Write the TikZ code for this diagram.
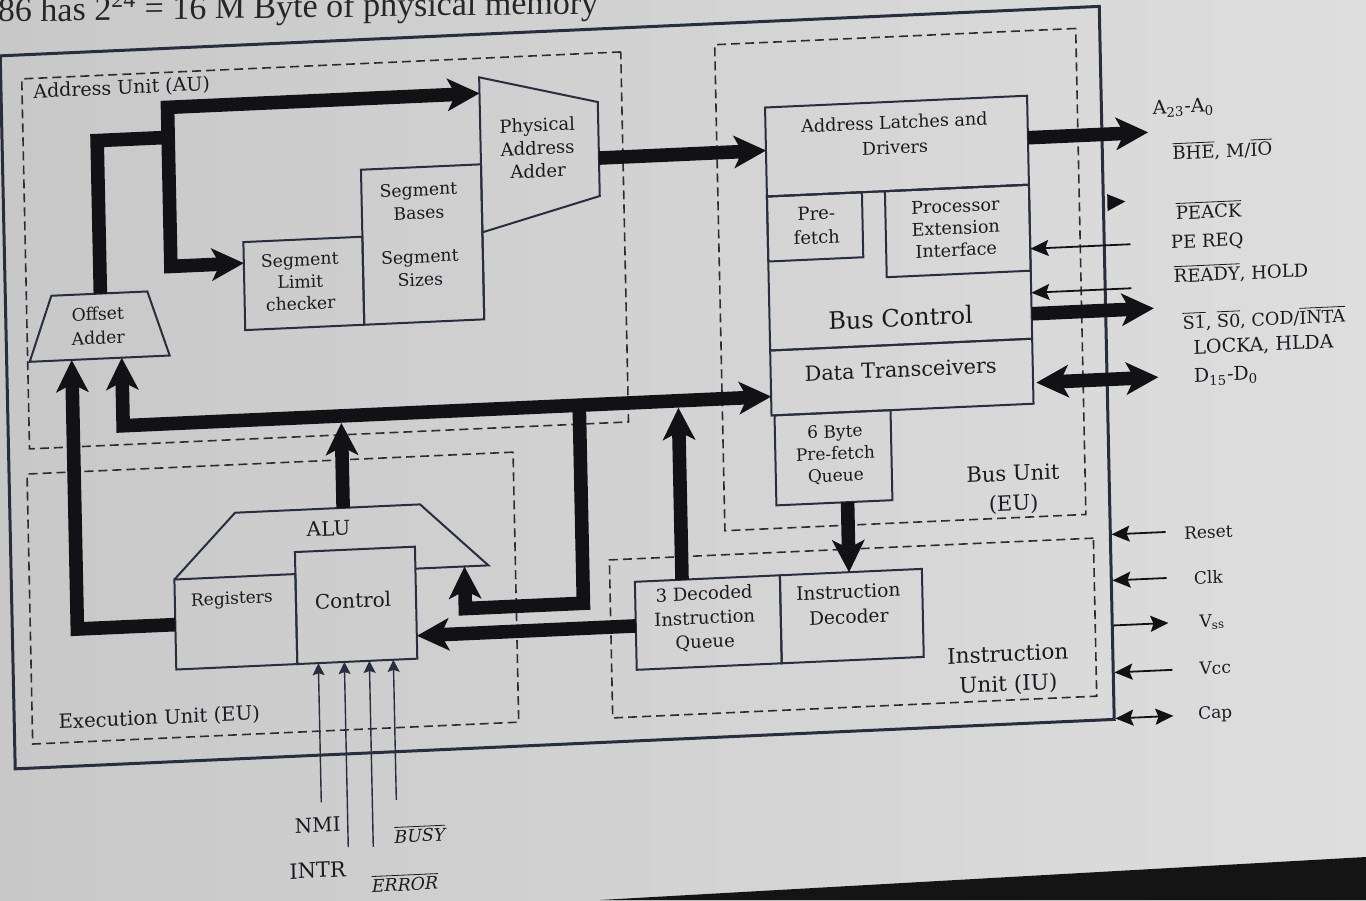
\documentclass[tikz,border=0pt]{standalone}
\usepackage{fontspec}
\setmainfont{DejaVu Serif}
\newfontfamily\topfont{Liberation Serif}
\usetikzlibrary{arrows.meta}
\newcommand\myfs[2]{\fontsize{#1}{#2}\selectfont}
\definecolor{bgl}{RGB}{200,200,200}
\definecolor{bgr}{RGB}{222,222,222}
\definecolor{linec}{RGB}{38,46,64}
\definecolor{busc}{RGB}{18,18,22}
\definecolor{txtc}{RGB}{26,26,32}
\definecolor{dashc}{RGB}{44,44,54}
\tikzset{
  BusTip/.tip={Stealth[length=16pt,width=16pt,inset=4pt]},
  ThinTip/.tip={Stealth[length=9pt,width=8pt,inset=1.5pt]},
  PinTip/.tip={Stealth[length=6pt,width=6pt,inset=1pt]},
  box/.style={draw=linec, line width=1pt, inner sep=0pt, outer sep=0pt},
  grp/.style={draw=dashc, line width=0.8pt, dash pattern=on 4.5pt off 2.5pt, inner sep=0pt, outer sep=0pt},
  lbl/.style={inner sep=0pt, align=center, text=txtc},
  bus/.style={draw=busc, line width=6.8pt, line join=miter},
  busarr/.style={bus, -BusTip},
  busdbl/.style={bus, BusTip-BusTip},
  thin/.style={draw=busc, line width=0.9pt},
  thinarr/.style={thin, -ThinTip},
  thindbl/.style={thin, ThinTip-ThinTip},
  pinarr/.style={draw=linec, line width=0.7pt, -PinTip},
}
\begin{document}
\begin{tikzpicture}[x=0.5pt,y=-0.5pt]
\useasboundingbox (0,0) rectangle (1366,900);
\shade[left color=bgl, right color=bgr] (0,0) rectangle (1366,900);
\fill[black!92] (600,900) -- (1366,857) -- (1366,900) -- cycle;

\begin{scope}[cm={1,0.045,-0.021,1,(-4.2pt,-12.6pt)}, transform shape]
% top text (cut off by the page edge, as in the photo)
\node[anchor=base west, inner sep=0pt, rotate=-1.8, font=\topfont\myfs{17}{20}, text=black!85] (ttop) at (6,-3) {86 has 2\textsuperscript{24} = 16 M Byte of physical memory};

% outer box and unit frames
\node[draw=linec, line width=1.5pt, inner sep=0pt, minimum width=549.5pt, minimum height=356.5pt] (outer) at (557.5,387.5) {};
\node[grp, minimum width=299.5pt, minimum height=185pt] (au) at (328.5,240) {};
\node[grp, minimum width=180.5pt, minimum height=243pt] (bu) at (902.5,295) {};
\node[grp, minimum width=243pt, minimum height=135pt] (eu) at (269,585) {};
\node[grp, minimum width=242pt, minimum height=79pt] (iu) at (848,641) {};

% bus unit boxes
\node[box, minimum width=131pt, minimum height=44.5pt] (ald) at (902,161.5) {};
\node[box, minimum width=131pt, minimum height=77pt] (bc) at (902,283) {};
\node[box, minimum width=131pt, minimum height=32.5pt] (dt) at (902,392.5) {};
\node[box, minimum width=47.5pt, minimum height=32.5pt] (pf) at (818.5,238.5) {};
\node[box, minimum width=72pt, minimum height=43pt] (pei) at (961,249) {};
\node[box, minimum width=58pt, minimum height=45pt] (q6) at (832,470) {};
% instruction unit boxes
\node[box, minimum width=72.5pt, minimum height=44pt] (dq) at (703.5,629) {};
\node[box, minimum width=71pt, minimum height=44pt] (idec) at (847,629) {};
% execution unit
\draw[box] (171,562) -- (233,498) -- (418,498) -- (485,562) -- (412,562);
\node[box, minimum width=60.5pt, minimum height=45pt] (reg) at (231.5,607) {};
\node[box, minimum width=60pt, minimum height=56pt] (ctl) at (352,596) {};
% address unit
\node[box, minimum width=59.5pt, minimum height=44pt] (slc) at (306.5,272) {};
\node[box, minimum width=60pt, minimum height=77.5pt] (sbs) at (426,238.5) {};
\draw[box] (486,316) -- (486,74) -- (604,104) -- (604,198) -- (486,229);
\draw[box] (54,273) -- (150,273) -- (171,338) -- (31,338) -- cycle;

% texts
\node[lbl, font=\myfs{9.5}{12}, anchor=west] (tau) at (40,69) {Address Unit (AU)};
\node[lbl, font=\myfs{9}{11.5}] (pa) at (543,147) {Physical\\Address\\Adder};
\node[lbl, font=\myfs{8.6}{11.5}] (tsb) at (423,195) {Segment\\Bases};
\node[lbl, font=\myfs{8.6}{11.5}] (tss) at (423,262) {Segment\\Sizes};
\node[lbl, font=\myfs{8.6}{11}] (tslc) at (303,270) {Segment\\Limit\\checker};
\node[lbl, font=\myfs{8.6}{12}] (oa) at (100,305) {Offset\\Adder};
\node[lbl, font=\myfs{8.8}{12.5}] (tald) at (900,150) {Address Latches and\\Drivers};
\node[lbl, font=\myfs{9}{12}] (tpf) at (820,237) {Pre-\\fetch};
\node[lbl, font=\myfs{8.8}{11}] (tpei) at (959,246) {Processor\\Extension\\Interface};
\node[lbl, font=\myfs{12}{14}] (tbc) at (902,333) {Bus Control};
\node[lbl, font=\myfs{10.4}{12}] (tdt) at (901,385) {Data Transceivers};
\node[lbl, font=\myfs{8.5}{11}] (tq6) at (834,467) {6 Byte\\Pre-fetch\\Queue};
\node[lbl, font=\myfs{10.5}{15}] (tbu) at (1011,510) {Bus Unit\\(EU)};
\node[lbl, font=\myfs{10}{12}] (alu) at (326,518) {ALU};
\node[lbl, font=\myfs{8.5}{10}] (treg) at (228,585) {Registers};
\node[lbl, font=\myfs{10}{12}] (tctl) at (349,591) {Control};
\node[lbl, font=\myfs{9.8}{12}] (teu) at (153,700) {Execution Unit (EU)};
\node[lbl, font=\myfs{9}{12}] (tdq) at (700,625) {3 Decoded\\Instruction\\Queue};
\node[lbl, font=\myfs{9.3}{12.5}] (tid) at (844,617) {Instruction\\Decoder};
\node[lbl, font=\myfs{10.8}{15}] (tiu) at (1002,690) {Instruction\\Unit (IU)};

% right-hand pin labels
\node[lbl, font=\myfs{9.5}{11}] (la) at (1189,136) {A\textsubscript{23}-A\textsubscript{0}};
\node[lbl, font=\myfs{9}{11}] (lb) at (1227,180) {$\overline{\mbox{BHE}}$, M/$\overline{\mbox{IO}}$};
\node[lbl, font=\myfs{9}{11}] (lc) at (1212,239) {$\overline{\mbox{PEACK}}$};
\node[lbl, font=\myfs{9}{11}] (ld) at (1210,271) {PE REQ};
\node[lbl, font=\myfs{9}{11}] (le) at (1243,303) {$\overline{\mbox{READY}}$, HOLD};
\node[lbl, font=\myfs{8.8}{11}] (lf) at (1265,350) {$\overline{\mbox{S1}}$, $\overline{\mbox{S0}}$, COD/$\overline{\mbox{INTA}}$};
\node[lbl, font=\myfs{9.5}{11}] (lg) at (1264,377) {LOCKA, HLDA};
\node[lbl, font=\myfs{9.5}{11}] (lh) at (1226,406) {D\textsubscript{15}-D\textsubscript{0}};
\node[lbl, font=\myfs{8.5}{10}] (li) at (1205,561) {Reset};
\node[lbl, font=\myfs{8.5}{10}] (lj) at (1204,606) {Clk};
\node[lbl, font=\myfs{8.5}{10}] (lk) at (1207,651) {V\textsubscript{ss}};
\node[lbl, font=\myfs{8.5}{10}] (ll) at (1209,697) {Vcc};
\node[lbl, font=\myfs{8.5}{10}] (lm) at (1208,743) {Cap};
\node[lbl, font=\myfs{10}{12}] (ln) at (309,814) {NMI};
\node[lbl, font=\myfs{10.5}{12}] (lo) at (308,859) {INTR};
\node[lbl, font=\myfs{8.7}{11}] (lp) at (411,827) {$\overline{\mbox{\itshape BUSY}}$};
\node[lbl, font=\myfs{8.7}{11}] (lq) at (395,875) {$\overline{\mbox{\itshape ERROR}}$};

% named points for connectors
\coordinate (oab1) at (73,338);  \coordinate (lc1) at (73,607);
\coordinate (oab2) at (123,338); \coordinate (lc2) at (123,406);
\coordinate (dtin) at (771,406);
\coordinate (alut) at (341,498); \coordinate (b1) at (341,413);
\coordinate (j1) at (579,406); \coordinate (j2) at (579,604);
\coordinate (j3) at (461,604); \coordinate (alurin) at (461,562);
\coordinate (dqt) at (678,585); \coordinate (b2) at (678,413);
\coordinate (ctlin) at (412,629);
\coordinate (q6s) at (845,515); \coordinate (idn) at (845,585);
\coordinate (oat) at (103,273); \coordinate (k0) at (103,120); \coordinate (k1) at (177,120);
\coordinate (pain) at (486,90); \coordinate (kc) at (174,90);
\coordinate (k2) at (174,249); \coordinate (slcin) at (247,249);
\coordinate (paout) at (604,160); \coordinate (aldin) at (771,160);
\coordinate (aldout) at (1033,159); \coordinate (aout) at (1153,159);
\coordinate (peq) at (1133,270); \coordinate (peqt) at (1033,270);
\coordinate (rdy) at (1133,314); \coordinate (rdyt) at (1033,314);
\coordinate (sin) at (1033,335); \coordinate (sout) at (1155,335);
\coordinate (dtout) at (1036,404); \coordinate (dout) at (1158,404);
\coordinate (rst) at (1162,559); \coordinate (rstt) at (1108,559);
\coordinate (clk) at (1162,605); \coordinate (clkt) at (1108,605);
\coordinate (vssf) at (1108,650); \coordinate (vss) at (1163,650);
\coordinate (vcc) at (1166,697); \coordinate (vcct) at (1108,697);
\coordinate (capf) at (1108,743); \coordinate (cap) at (1166,743);
\coordinate (i1) at (313,791); \coordinate (i1t) at (313,652);
\coordinate (i2) at (339,837); \coordinate (i2t) at (339,652);
\coordinate (i3) at (364,838); \coordinate (i3t) at (364,652);
\coordinate (i4) at (388,792); \coordinate (i4t) at (388,652);

% buses
\draw[busarr] (reg.west) -- (lc1) -- (oab1);
\draw[busdbl] (oab2) -- (lc2) -- (dtin);
\draw[busarr] (alut) -- (b1);
\draw[busarr] (j1) -- (j2) -- (j3) -- (alurin);
\draw[busarr] (dqt) -- (b2);
\draw[busarr] (dq.west) -- (ctlin);
\draw[busarr] (q6s) -- (idn);
\draw[bus] (oat) -- (k0) -- (k1);
\draw[busdbl] (pain) -- (kc) -- (k2) -- (slcin);
\draw[busarr] (paout) -- (aldin);
\draw[busarr] (aldout) -- (aout);
\draw[busarr] (sin) -- (sout);
\draw[busdbl] (dtout) -- (dout);
% thin signal lines
\fill[busc] (1111,219) -- (1129,227) -- (1111,236) -- cycle;
\draw[thinarr] (peq) -- (peqt);
\draw[thinarr] (rdy) -- (rdyt);
\draw[thinarr] (rst) -- (rstt);
\draw[thinarr] (clk) -- (clkt);
\draw[thinarr] (vssf) -- (vss);
\draw[thinarr] (vcc) -- (vcct);
\draw[thindbl] (capf) -- (cap);
\draw[pinarr] (i1) -- (i1t);
\draw[pinarr] (i2) -- (i2t);
\draw[pinarr] (i3) -- (i3t);
\draw[pinarr] (i4) -- (i4t);
\end{scope}
\end{tikzpicture}
\end{document}
